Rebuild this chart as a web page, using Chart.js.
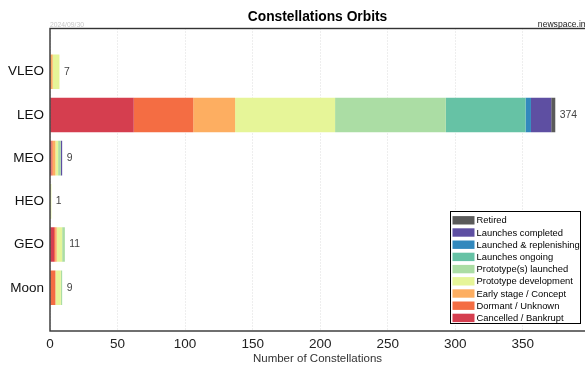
<!DOCTYPE html>
<html>
<head>
<meta charset="utf-8">
<script src="https://cdn.jsdelivr.net/npm/chart.js@4.4.1/dist/chart.umd.min.js"></script>
<style>
html,body{margin:0;padding:0;background:#fff;}
#wrap{width:585px;height:368px;position:relative;}
</style>
</head>
<body>
<div id="wrap"><canvas id="c" width="585" height="368"></canvas></div>
<script>
const categories = ['VLEO', 'LEO', 'MEO', 'HEO', 'GEO', 'Moon'];
const statusNames = ['Cancelled / Bankrupt', 'Dormant / Unknown', 'Early stage / Concept', 'Prototype development', 'Prototype(s) launched', 'Launches ongoing', 'Launched & replenishing', 'Launches completed', 'Retired'];
const statusColors = ['#d53e4f', '#f46d43', '#fdae61', '#e6f598', '#abdda4', '#66c2a5', '#3288bd', '#5e4fa2', '#5a5a5a'];
// values per category: VLEO, LEO, MEO, HEO, GEO, Moon
const cancelled     = [0, 62, 1, 0, 3, 0];
const dormant       = [0, 44, 1, 0, 1, 4];
const earlyStage    = [2, 31, 2, 0, 1, 0];
const protoDev      = [5, 74, 2, 1, 4, 4];
const protoLaunched = [0, 82, 2, 0, 2, 1];
const ongoing       = [0, 59, 0, 0, 0, 0];
const replenishing  = [0, 4, 0, 0, 0, 0];
const completed     = [0, 15, 1, 0, 0, 0];
const retired       = [0, 3, 0, 0, 0, 0];
const xTicksStep = 50;
const xMax = 396;
const titleText = 'Constellations Orbits';
const xTitle = 'Number of Constellations';
const dateText = '2024/09/30';
const siteText = 'newspace.im';

const seriesValues = [cancelled, dormant, earlyStage, protoDev, protoLaunched, ongoing, replenishing, completed, retired];
const labels = [''].concat(categories, ['']);
const FONT = "'Liberation Sans', Arial, Helvetica, sans-serif";
Chart.defaults.font.family = FONT;

const datasets = seriesValues.map((vals, i) => ({
  label: statusNames[i],
  data: [null].concat(vals.map(v => v === 0 ? null : v), [null]),
  backgroundColor: statusColors[i],
  borderWidth: 0,
  barPercentage: 0.8,
  categoryPercentage: 1.0
}));

const totals = categories.map((c, ci) => seriesValues.reduce((s, arr) => s + arr[ci], 0));

const decor = {
  id: 'decor',
  afterDatasetsDraw(chart) {
    const ctx = chart.ctx;
    const xs = chart.scales.x, ys = chart.scales.y;
    ctx.save();
    ctx.font = "10.4px " + FONT;
    ctx.fillStyle = '#444';
    ctx.textAlign = 'left';
    ctx.textBaseline = 'middle';
    totals.forEach((t, i) => {
      const x = xs.getPixelForValue(t) + 4.5;
      const y = ys.getPixelForValue(i + 1);
      ctx.fillText(String(t), x, y);
    });
    ctx.restore();
  },
  afterDraw(chart) {
    const ctx = chart.ctx;
    const a = chart.chartArea;
    ctx.save();
    ctx.strokeStyle = '#333';
    ctx.lineWidth = 1.4;
    ctx.strokeRect(a.left, a.top, a.right - a.left + 2, a.bottom - a.top);
    ctx.fillStyle = '#000';
    ctx.font = "bold 13.8px " + FONT;
    ctx.textAlign = 'center';
    ctx.textBaseline = 'middle';
    ctx.fillText(titleText, (a.left + a.right) / 2, 17);
    ctx.fillStyle = '#c8c8c8';
    ctx.font = "6.8px " + FONT;
    ctx.textAlign = 'left';
    ctx.textBaseline = 'alphabetic';
    ctx.fillText(dateText, a.left, 26.5);
    ctx.fillStyle = '#222';
    ctx.font = "8.6px " + FONT;
    ctx.textAlign = 'right';
    ctx.fillText(siteText, 588, 26.5);
    const lx = 450.5, ly = 211.5, lw = 130, lh = 112;
    ctx.fillStyle = '#fff';
    ctx.fillRect(lx, ly, lw, lh);
    ctx.strokeStyle = '#000';
    ctx.lineWidth = 1;
    ctx.strokeRect(lx, ly, lw, lh);
    ctx.font = "9.4px " + FONT;
    ctx.textBaseline = 'middle';
    ctx.textAlign = 'left';
    const ds = chart.data.datasets.slice().reverse();
    ds.forEach((d, i) => {
      const cy = 220.3 + i * 12.2;
      ctx.fillStyle = d.backgroundColor;
      ctx.fillRect(452.5, cy - 4.2, 22, 8.4);
      ctx.fillStyle = '#000';
      ctx.fillText(d.label, 476.5, cy + 0.5);
    });
    ctx.restore();
  }
};

new Chart(document.getElementById('c'), {
  type: 'bar',
  data: { labels: labels, datasets: datasets },
  plugins: [decor],
  options: {
    indexAxis: 'y',
    responsive: false,
    animation: false,
    layout: { padding: { top: 28.5, left: 0, right: 0, bottom: 0 } },
    plugins: {
      legend: { display: false },
      title: { display: false },
      tooltip: { enabled: false }
    },
    scales: {
      x: {
        type: 'linear',
        stacked: true,
        min: 0,
        max: xMax,
        grid: { display: true, color: '#d4d4d4', lineWidth: 0.8, drawTicks: false },
        border: { display: false, dash: [1, 2] },
        ticks: { stepSize: xTicksStep, includeBounds: false, color: '#222', font: { size: 13.5 }, padding: 5 },
        title: { display: true, text: xTitle, color: '#333', font: { size: 11.5 }, padding: { top: 0, bottom: 2 } },
        afterFit(s) { s.height = 37; s.paddingLeft = 0; s.paddingRight = 0; }
      },
      y: {
        type: 'category',
        stacked: true,
        offset: false,
        grid: { display: false, drawTicks: false },
        border: { display: false },
        ticks: { color: '#111', font: { size: 13.5 }, padding: 6, autoSkip: false },
        afterFit(s) { s.width = 50; s.paddingTop = 0; s.paddingBottom = 0; }
      }
    }
  }
});
</script>
</body>
</html>
